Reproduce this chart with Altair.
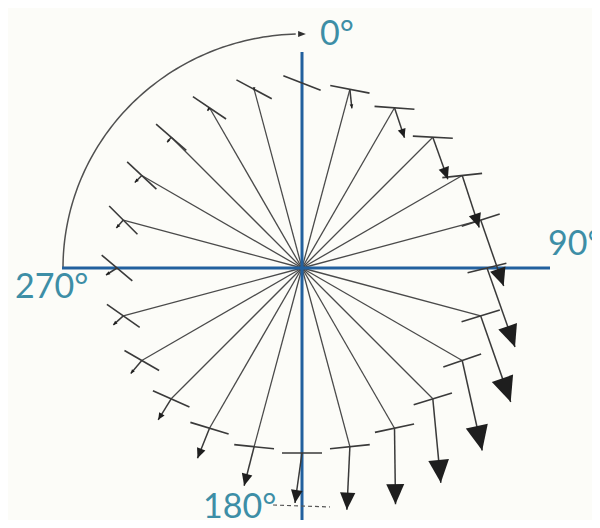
import altair as alt
import pandas as pd
import numpy as np

# ---- data (compass angles, clockwise from 0° at top) ----
angles = list(range(0, 360, 15))
spoke_radius = 185
tick_half = 20
tick_tilt = [21, 11, 4, 3, -6, -18, -14, -17, -19, -17, -12, -6,
             0, 6, 17, 24, 30, 35, 40, 45, 43, 41, 34, 28]
arrow_dx = [0, 2, 10, 15, 17, 23, 28, 30, 20, 8, 1, -3,
            -7, -10, -12, -13, -11, -10, -11, -7, -7, -4, -2, 0]
arrow_dy = [0, 19, 30, 42, 52, 66, 79, 86, 90, 84, 76, 63,
            50, 39, 30, 21, 13, 9, 7, 8, 7, 5, 3, 1]
head_len = [0, 4, 9, 12, 14, 18, 22, 25, 25, 23, 20, 17,
            13, 12, 10, 7, 4, 4, 4, 4, 4, 3, 3, 3]

label_text = ["0°", "90°", "270°", "180°"]
label_x = [18, 246, -287, -99]
label_y = [223, 13, -30, -250]

axis_x = [-240, 0]
axis_y = [0, 216]
axis_x2 = [248, 0]
axis_y2 = [0, -252]

arc_rx, arc_ry = 239, 234

# ---- derived tables ----
th = np.radians(angles)
ex = spoke_radius * np.sin(th)
ey = spoke_radius * np.cos(th)
tt = np.radians(tick_tilt)
adx = np.array(arrow_dx, float)
ady = -np.array(arrow_dy, float)
alen = np.hypot(adx, ady)
alen[alen == 0] = 1
hl = np.array(head_len, float)
tipx = ex + adx
tipy = ey + ady
rot = (360 - np.degrees(np.arctan2(np.array(arrow_dx, float), np.array(arrow_dy, float)))) % 360

spokes = pd.DataFrame({
    "x": 0.0, "y": 0.0, "x2": ex, "y2": ey,
    "tx": ex - tick_half * np.cos(tt), "ty": ey + tick_half * np.sin(tt),
    "tx2": ex + tick_half * np.cos(tt), "ty2": ey - tick_half * np.sin(tt),
    "ax": ex, "ay": ey, "ax2": tipx, "ay2": tipy,
    "hx": tipx - adx / alen * hl / 2, "hy": tipy - ady / alen * hl / 2,
    "hsize": hl ** 2, "rot": rot,
})
heads = spokes[spokes["hsize"] > 0]

axes_df = pd.DataFrame({"x": axis_x, "y": axis_y, "x2": axis_x2, "y2": axis_y2})
phi = np.radians(np.linspace(270, 358.5, 80))
arc_df = pd.DataFrame({"x": arc_rx * np.sin(phi), "y": arc_ry * np.cos(phi),
                       "o": np.arange(80)})
arc_tip = pd.DataFrame({"x": [0.0], "y": [float(arc_ry)]})
labels = pd.DataFrame({"t": label_text, "x": label_x, "y": label_y})
dash_df = pd.DataFrame({"x": [-29], "y": [-237], "x2": [28], "y2": [-239]})

xsc = alt.Scale(domain=[-294, 290], nice=False, zero=False)
ysc = alt.Scale(domain=[-252, 260], nice=False, zero=False)
X = lambda f: alt.X(f, type="quantitative", scale=xsc, axis=None)
Y = lambda f: alt.Y(f, type="quantitative", scale=ysc, axis=None)

line_col = "#3a3a3a"

spoke_layer = alt.Chart(spokes).mark_rule(color="#4a4a4a", strokeWidth=1.3).encode(
    x=X("x"), y=Y("y"), x2="x2", y2="y2")
axes_layer = alt.Chart(axes_df).mark_rule(color="#22609e", strokeWidth=3).encode(
    x=X("x"), y=Y("y"), x2="x2", y2="y2")
tick_layer = alt.Chart(spokes).mark_rule(color=line_col, strokeWidth=1.6).encode(
    x=X("tx"), y=Y("ty"), x2="tx2", y2="ty2")
shaft_layer = alt.Chart(spokes).mark_rule(color=line_col, strokeWidth=1.5).encode(
    x=X("ax"), y=Y("ay"), x2="ax2", y2="ay2")
head_layer = alt.Chart(heads).mark_point(
    shape="M-0.9,-1L0.9,-1L0,1Z", filled=True, color="#1e1e1e", opacity=1
).encode(
    x=X("hx"), y=Y("hy"),
    size=alt.Size("hsize:Q", scale=None, legend=None),
    angle=alt.Angle("rot:Q", scale=None),
)
arc_layer = alt.Chart(arc_df).mark_line(color="#505050", strokeWidth=1.5).encode(
    x=X("x"), y=Y("y"), order="o:Q")
arc_tip_layer = alt.Chart(arc_tip).mark_point(
    shape="M-1,-0.8L1,0L-1,0.8Z", filled=True, color="#303030", size=60, opacity=1
).encode(x=X("x"), y=Y("y"))
dash_layer = alt.Chart(dash_df).mark_rule(color="#555555", strokeWidth=1.2,
                                          strokeDash=[4, 3]).encode(
    x=X("x"), y=Y("y"), x2="x2", y2="y2")
text_layer = alt.Chart(labels).mark_text(
    font="Lato", fontSize=34, color="#3d8ea6", align="left", baseline="alphabetic"
).encode(x=X("x"), y=Y("y"), text="t:N")

chart = alt.layer(
    arc_layer, arc_tip_layer, spoke_layer, axes_layer, tick_layer,
    shaft_layer, head_layer, dash_layer, text_layer
).properties(
    width=584, height=512, padding=0, autosize=alt.AutoSizeParams(type="none"),
    background="#fcfcf8",
).configure_view(stroke=None)

chart.save("out.html", embed_options={"renderer": "svg", "actions": False})
